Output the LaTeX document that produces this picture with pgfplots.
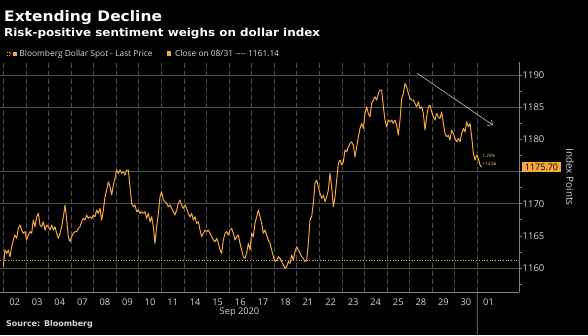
\documentclass[border=0pt]{standalone}
\usepackage{fontspec}
\setmainfont{Open Sans}
\newfontfamily\titlefont[FakeStretch=1.07]{DejaVu Sans}
\newfontfamily\subfont[FakeStretch=1.09]{DejaVu Sans}
\newfontfamily\srcfont{DejaVu Sans}
\usepackage{pgfplots}
\pgfplotsset{compat=1.18}
\usetikzlibrary{arrows.meta}
\definecolor{bbor}{RGB}{246,168,62}
\definecolor{gridc}{RGB}{78,78,78}
\definecolor{txt}{RGB}{215,215,215}
\definecolor{axc}{RGB}{130,130,130}
\begin{document}
\begin{tikzpicture}[x=1bp,y=1bp]
\useasboundingbox (0,0) rectangle (588,335);
\fill[black] (0,0) rectangle (588,335);
\node[anchor=base west, text=white, font=\titlefont\bfseries\fontsize{14.5}{15}\selectfont, inner sep=0] at (4,314) {Extending Decline};
\node[anchor=base west, text=white, font=\subfont\bfseries\fontsize{11}{12}\selectfont, inner sep=0] at (4,298.3) {Risk-positive sentiment weighs on dollar index};
\draw[bbor, line width=0.4pt, dotted] (7.3,280) rectangle (10.3,283);
\fill[bbor] (12.7,279.5) rectangle (16.7,283.5);
\node[anchor=base west, text=txt, font=\fontsize{8.4}{9}\selectfont, inner sep=0] at (19.3,278.3) {Bloomberg Dollar Spot - Last Price};
\fill[bbor] (167,279.5) rectangle (171.3,283.8);
\node[anchor=base west, text=txt, font=\fontsize{8.4}{9}\selectfont, inner sep=0] at (175,278.3) {Close on 08/31 {-}{-}{-}{-} 1161.14};
\node[anchor=base, text=txt, font=\fontsize{9.3}{10}\selectfont, inner sep=0] at (239.5,21) {Sep 2020};
\node[anchor=base west, text=txt, font=\srcfont\bfseries\fontsize{8}{9}\selectfont, inner sep=0] at (6,9) {Source: Bloomberg};
\node[rotate=-90, text=txt, font=\fontsize{10}{11}\selectfont, inner sep=0] at (570,158) {Index Points};
\begin{axis}[
  at={(0bp,43.3bp)}, anchor=south west,
  scale only axis, width=519bp, height=229.7bp,
  xmin=-2, xmax=309.4, ymin=1156.3, ymax=1192,
  clip=false,
  axis x line*=bottom, axis y line*=right,
  axis line style={draw=axc, line width=0.6pt},
  xtick={6.77,20.31,33.85,47.39,60.93,74.47,88.01,101.55,115.09,128.63,142.17,155.71,169.25,182.79,196.33,209.87,223.41,236.95,250.49,264.03,277.57,291.11},
  xticklabels={02,03,04,07,08,09,10,11,14,15,16,17,18,21,22,23,24,25,28,29,30,01},
  x tick style={draw=none},
  minor xtick={0,13.54,27.08,40.62,54.16,67.70,81.24,94.78,108.32,121.86,135.40,148.94,162.48,176.02,189.56,203.10,216.64,230.18,243.72,257.26,270.80,284.34},
  xminorgrids,
  minor x grid style={draw=gridc, line width=0.6pt, dash pattern=on 5bp off 3bp},
  xticklabel style={anchor=north, inner sep=0pt, yshift=-3.6bp, text=txt, font=\fontsize{9.3}{10}\selectfont},
  ytick={1160,1165,1170,1180,1185,1190},
  minor ytick={1157.5,1162.5,1167.5,1172.5,1177.5,1182.5,1187.5},
  tick align=outside,
  y tick style={draw=axc, line width=0.6pt},
  major tick length=3bp, minor tick length=3bp,
  yticklabel style={anchor=west, inner sep=0pt, xshift=0.5bp, text=txt, font=\fontsize{9.5}{10}\selectfont,
    /pgf/number format/assume math mode=true, /pgf/number format/1000 sep={}},
  extra y ticks={1160,1170,1175,1185,1190},
  extra y tick labels={},
  extra y tick style={ymajorgrids=true, major grid style={draw=gridc, line width=0.6pt}},
]
\addplot[bbor, dotted, line width=0.7pt] coordinates {(-2,1161.14) (309.4,1161.14)};
\addplot[bbor, line width=1pt, line join=round] table {
k v
0 1160.20
1 1162.80
2 1162.28
3 1162.80
4 1161.75
5 1163.31
6 1164.35
7 1165.12
8 1164.61
9 1166.16
10 1166.68
11 1165.90
12 1165.39
13 1165.64
14 1164.35
15 1165.12
16 1165.64
17 1165.39
18 1167.45
19 1166.41
20 1167.97
21 1168.49
22 1166.68
23 1166.41
24 1167.19
25 1165.90
26 1166.68
27 1166.41
28 1165.90
29 1166.68
30 1165.90
31 1166.41
32 1165.39
33 1164.61
34 1165.39
35 1166.41
36 1167.97
37 1169.78
38 1167.45
39 1164.86
40 1164.08
41 1164.86
42 1165.39
43 1165.64
44 1165.64
45 1166.16
46 1166.41
47 1167.19
48 1167.72
49 1167.45
50 1168.23
51 1167.72
52 1167.97
53 1167.72
54 1168.23
55 1167.97
56 1169.01
57 1168.49
58 1169.27
59 1167.45
60 1169.01
61 1171.07
62 1172.11
63 1173.40
64 1172.62
65 1171.34
66 1172.89
67 1173.93
68 1175.22
69 1174.71
70 1175.22
71 1174.71
72 1174.95
73 1174.44
74 1175.22
75 1175.22
76 1172.62
77 1170.05
78 1169.52
79 1169.78
80 1168.74
81 1169.01
82 1168.49
83 1168.74
84 1168.49
85 1168.74
86 1167.72
87 1168.49
88 1167.19
89 1167.97
90 1166.41
91 1163.84
92 1166.41
93 1168.49
94 1171.07
95 1171.85
96 1170.56
97 1170.30
98 1170.05
99 1169.52
100 1169.78
101 1169.27
102 1168.74
103 1168.23
104 1169.01
105 1170.05
106 1170.56
107 1169.78
108 1169.27
109 1169.78
110 1169.27
111 1168.49
112 1167.97
113 1168.49
114 1167.45
115 1167.97
116 1166.94
117 1167.19
118 1165.90
119 1164.86
120 1165.39
121 1165.90
122 1165.64
123 1165.90
124 1165.39
125 1164.86
126 1164.35
127 1164.08
128 1164.61
129 1163.84
130 1162.80
131 1162.28
132 1164.35
133 1165.39
134 1165.64
135 1165.12
136 1165.90
137 1166.16
138 1165.39
139 1164.35
140 1164.86
141 1165.12
142 1163.84
143 1162.80
144 1161.75
145 1161.51
146 1162.28
147 1163.84
148 1162.80
149 1165.39
150 1164.86
151 1166.94
152 1167.97
153 1169.01
154 1167.97
155 1166.94
156 1165.39
157 1165.90
158 1165.12
159 1164.35
160 1163.84
161 1162.80
162 1161.75
163 1160.98
164 1161.24
165 1161.75
166 1161.51
167 1160.98
168 1160.47
169 1159.95
170 1160.20
171 1160.98
172 1160.73
173 1162.02
174 1161.24
175 1162.53
176 1163.31
177 1162.80
178 1162.28
179 1161.75
180 1161.51
181 1160.98
182 1161.24
183 1163.84
184 1167.45
185 1167.97
186 1170.05
187 1173.15
188 1173.67
189 1172.62
190 1171.60
191 1170.82
192 1171.34
193 1170.30
194 1171.07
195 1172.11
196 1174.71
197 1172.62
198 1169.52
199 1171.07
200 1173.67
201 1176.26
202 1176.77
203 1175.99
204 1176.51
205 1178.32
206 1178.06
207 1178.84
208 1179.36
209 1179.61
210 1179.10
211 1177.28
212 1178.84
213 1180.39
214 1181.69
215 1182.47
216 1181.69
217 1184.02
218 1185.05
219 1184.02
220 1183.49
221 1185.58
222 1186.09
223 1186.60
224 1186.09
225 1187.13
226 1187.64
227 1187.64
228 1185.05
229 1182.98
230 1181.94
231 1182.98
232 1182.72
233 1182.98
234 1182.47
235 1182.98
236 1182.21
237 1180.65
238 1182.98
239 1186.35
240 1187.13
241 1188.68
242 1188.15
243 1187.13
244 1186.35
245 1186.09
246 1186.09
247 1185.58
248 1185.05
249 1185.82
250 1184.80
251 1185.05
252 1184.02
253 1181.43
254 1183.49
255 1185.05
256 1185.31
257 1184.27
258 1183.49
259 1182.98
260 1184.02
261 1183.49
262 1183.25
263 1184.27
264 1182.47
265 1180.92
266 1180.39
267 1180.65
268 1179.88
269 1181.43
270 1180.92
271 1180.14
272 1179.61
273 1180.14
274 1179.61
275 1180.92
276 1181.69
277 1181.17
278 1182.72
279 1181.94
280 1182.47
281 1180.39
282 1177.81
283 1176.77
284 1177.55
285 1177.03
286 1175.99
287 1175.70
};
\draw[axc, line width=0.6pt] (axis cs:284.34,1156.3) -- ++(0,-24bp);
\draw[-{Straight Barb[length=4bp,width=7bp]}, white!75!black, line width=0.6pt] (axis cs:248.2,1190.28) -- (axis cs:293.8,1182.2);
\node[anchor=west, inner sep=0, text=bbor!55!white, font=\fontsize{4.5}{5}\selectfont] at (axis cs:287.4,1177.4) {1.25\%};
\node[anchor=west, inner sep=0, text=bbor!55!white, font=\fontsize{4.5}{5}\selectfont] at (axis cs:287.4,1176.15) {+14.56};
\node[anchor=west, fill=bbor, text=black, inner xsep=3bp, inner ysep=1.8bp, font=\fontsize{9}{9}\selectfont, xshift=2.7bp] at (axis cs:309.4,1175.70) {1175.70};
\end{axis}
\end{tikzpicture}
\end{document}
